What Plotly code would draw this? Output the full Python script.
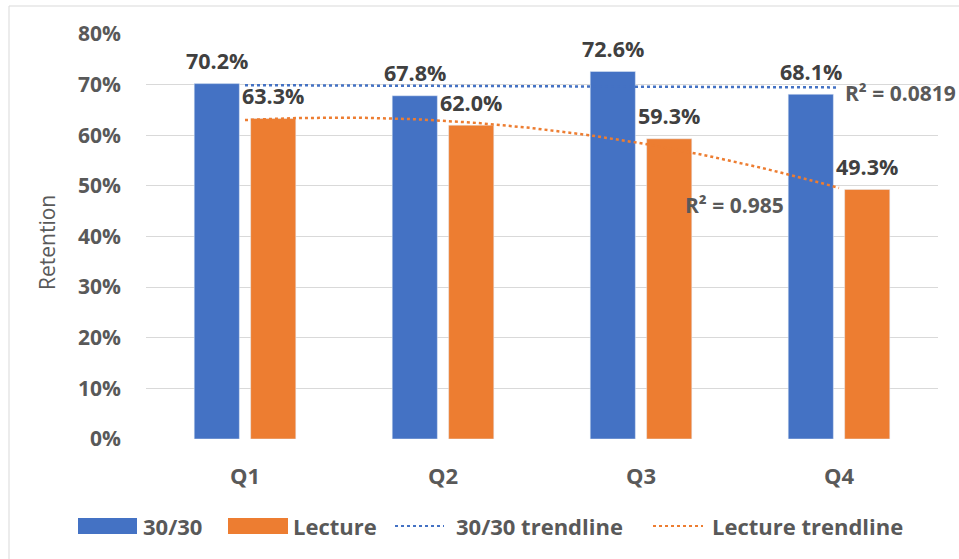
import numpy as np
import plotly.graph_objects as go

categories = ["Q1", "Q2", "Q3", "Q4"]
series_3030 = [0.702, 0.678, 0.726, 0.681]
series_lecture = [0.633, 0.620, 0.593, 0.493]
r2_3030 = "R² = 0.0819"
r2_lecture = "R² = 0.985"
y_ticks = [0, 0.1, 0.2, 0.3, 0.4, 0.5, 0.6, 0.7, 0.8]

BLUE = "#4472C4"
ORANGE = "#ED7D31"
TXT = "#595959"
FONT = "Open Sans"

W, H = 959, 559
L, R, T, B = 146, 21, 34, 120
PW, PH = W - L - R, H - T - B

def px(x):
    return (x - L) / PW

def py(y):
    return (H - B - y) / PH

xs = np.arange(len(categories))
OFF = 0.1425

fig = go.Figure()
fig.add_trace(go.Bar(x=xs, y=series_3030, name="30/30", marker_color=BLUE, showlegend=False))
fig.add_trace(go.Bar(x=xs, y=series_lecture, name="Lecture", marker_color=ORANGE, showlegend=False))

# trendlines: linear for 30/30, 2nd-order polynomial for Lecture (fitted from data)
xf = np.linspace(0, len(categories) - 1, 100)
c1 = np.polyfit(xs, series_3030, 1)
c2 = np.polyfit(xs, series_lecture, 2)
fig.add_trace(go.Scatter(x=xf, y=np.polyval(c1, xf), mode="lines", showlegend=False,
                         line=dict(color=BLUE, dash="dot", width=2.5)))
fig.add_trace(go.Scatter(x=xf, y=np.polyval(c2, xf), mode="lines", showlegend=False,
                         line=dict(color=ORANGE, dash="dot", width=2.5)))

ann = []
for i, v in enumerate(series_3030):
    ann.append(dict(x=i - OFF, y=v, xref="x", yref="y", text=f"{v*100:.1f}%", showarrow=False,
                    yanchor="middle", yshift=23, font=dict(family=FONT, size=21.5, color="#404040", weight="bold")))
for i, v in enumerate(series_lecture):
    ann.append(dict(x=i + OFF, y=v, xref="x", yref="y", text=f"{v*100:.1f}%", showarrow=False,
                    yanchor="middle", yshift=23, font=dict(family=FONT, size=21.5, color="#404040", weight="bold")))

ann.append(dict(x=px(843), y=py(93), xref="paper", yref="paper", text=r2_3030, showarrow=False,
                xanchor="left", yanchor="middle", font=dict(family=FONT, size=21, color=TXT, weight="bold")))
ann.append(dict(x=px(683), y=py(205), xref="paper", yref="paper", text=r2_lecture, showarrow=False,
                xanchor="left", yanchor="middle", font=dict(family=FONT, size=21, color=TXT, weight="bold")))

ann.append(dict(x=px(47), y=py(243), xref="paper", yref="paper", text="Retention", showarrow=False,
                textangle=-90, xanchor="center", yanchor="middle", font=dict(family=FONT, size=21, color=TXT)))

# manual legend
shapes = []
LY = 526
shapes.append(dict(type="rect", xref="paper", yref="paper", x0=px(78), x1=px(137), y0=py(534), y1=py(518),
                   fillcolor=BLUE, line=dict(width=0)))
shapes.append(dict(type="rect", xref="paper", yref="paper", x0=px(228), x1=px(288), y0=py(534), y1=py(518),
                   fillcolor=ORANGE, line=dict(width=0)))
shapes.append(dict(type="line", xref="paper", yref="paper", x0=px(395), x1=px(444), y0=py(LY), y1=py(LY),
                   line=dict(color=BLUE, dash="dot", width=2)))
shapes.append(dict(type="line", xref="paper", yref="paper", x0=px(653), x1=px(703), y0=py(LY), y1=py(LY),
                   line=dict(color=ORANGE, dash="dot", width=2)))
for lx, t in [(141, "30/30"), (291, "Lecture"), (454, "30/30 trendline"), (710, "Lecture trendline")]:
    ann.append(dict(x=px(lx), y=py(LY), xref="paper", yref="paper", text=t, showarrow=False,
                    xanchor="left", yanchor="middle", font=dict(family=FONT, size=22, color=TXT, weight="bold")))

# chart border
shapes.append(dict(type="rect", xref="paper", yref="paper", x0=px(9), x1=px(975), y0=py(575), y1=py(6),
                   line=dict(color="#D9D9D9", width=1), fillcolor="rgba(0,0,0,0)", layer="below"))

fig.update_layout(
    width=W, height=H,
    margin=dict(l=L, r=R, t=T, b=B),
    paper_bgcolor="white", plot_bgcolor="white",
    barmode="group", bargap=0.43, bargroupgap=0.2,
    annotations=ann, shapes=shapes,
    showlegend=False,
    xaxis=dict(range=[-0.5, len(categories) - 0.5], tickvals=list(xs), ticktext=categories,
               showgrid=False, zeroline=False, showline=False, ticks="",
               ticklabelstandoff=22,
               tickfont=dict(family=FONT, size=22, color=TXT, weight="bold")),
    yaxis=dict(range=[0, 0.8], tickvals=y_ticks, tickformat=".0%",
               showgrid=True, gridcolor="#D9D9D9", gridwidth=1.3, zeroline=False, showline=False,
               ticks="", ticklabelstandoff=24,
               tickfont=dict(family=FONT, size=21, color=TXT, weight="bold")),
)

fig.write_html("out.html")
